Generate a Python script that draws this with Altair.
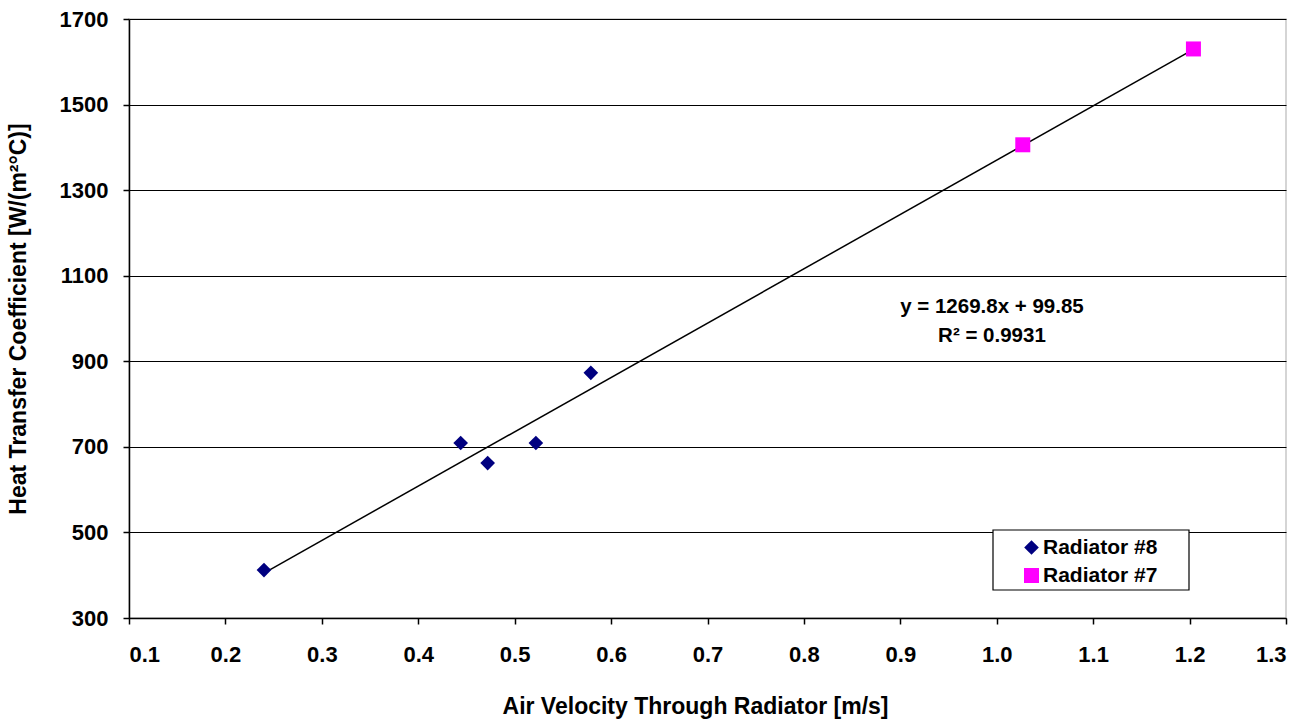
import altair as alt
import pandas as pd

# Data
x_rad8 = [0.240, 0.444, 0.472, 0.522, 0.579]
y_rad8 = [412, 709, 662, 709, 873]
x_rad7 = [1.027, 1.204]
y_rad7 = [1406, 1630]
series_names = ["Radiator #8", "Radiator #7"]
series_colors = ["#000080", "#FF00FF"]
series_shapes = ["diamond", "square"]
x_ticks = [0.1, 0.2, 0.3, 0.4, 0.5, 0.6, 0.7, 0.8, 0.9, 1.0, 1.1, 1.2, 1.3]
y_ticks = [300, 500, 700, 900, 1100, 1300, 1500, 1700]
eq_lines = ["y = 1269.8x + 99.85", "R² = 0.9931"]
eq_x = [0.995, 0.995]
eq_y = [1027, 959]

FONT = "Liberation Sans"

df = pd.DataFrame({
    "x": x_rad8 + x_rad7,
    "y": y_rad8 + y_rad7,
    "series": [series_names[0]] * len(x_rad8) + [series_names[1]] * len(x_rad7),
})
eq_df = pd.DataFrame({"x": eq_x, "y": eq_y, "t": eq_lines})

xs = alt.Scale(domain=[0.1, 1.3], nice=False, zero=False)
ys = alt.Scale(domain=[300, 1700], nice=False, zero=False)

x_axis = alt.Axis(
    values=x_ticks, format=".1f", title="Air Velocity Through Radiator [m/s]",
    grid=False, tickSize=6, labelPadding=20, titleY=88, titleX=566,
    titleAlign="center", titleBaseline="middle",
)
y_axis = alt.Axis(
    values=y_ticks, format="d", title="Heat Transfer Coefficient [W/(m²°C)]",
    grid=True, tickSize=6, labelPadding=15, titleX=-111, titleBaseline="middle",
)

base = alt.Chart(df)

points = base.mark_point(filled=True, opacity=1, strokeWidth=0).encode(
    x=alt.X("x:Q", scale=xs, axis=x_axis),
    y=alt.Y("y:Q", scale=ys, axis=y_axis),
    color=alt.Color("series:N", scale=alt.Scale(domain=series_names, range=series_colors),
                    legend=alt.Legend(title=None, orient="none", legendX=892, legendY=518,
                                      labelFontSize=21, labelFont=FONT, labelFontWeight="bold",
                                      symbolSize=140, rowPadding=6, labelOffset=1,
                                      symbolStrokeWidth=0)),
    shape=alt.Shape("series:N", scale=alt.Scale(domain=series_names, range=series_shapes)),
    size=alt.Size("series:N", scale=alt.Scale(domain=series_names, range=[215, 225]), legend=None),
)

trend = base.transform_regression("x", "y", extent=[0.24, 1.204]).mark_line(
    color="black", strokeWidth=1.5
).encode(x=alt.X("x:Q", scale=xs), y=alt.Y("y:Q", scale=ys))

legend_box = alt.Chart(pd.DataFrame({"a": [0]})).mark_rect(
    fill="white", stroke="black", strokeWidth=1.2
).encode(
    x=alt.value(864), x2=alt.value(1060), y=alt.value(511), y2=alt.value(571)
)

eq_text = alt.Chart(eq_df).mark_text(
    font=FONT, fontSize=20.5, fontWeight="bold", color="black", align="center", baseline="middle"
).encode(x=alt.X("x:Q", scale=xs), y=alt.Y("y:Q", scale=ys), text="t:N")

chart = alt.layer(trend, legend_box, points, eq_text).properties(
    width=1157, height=599,
    padding={"left": 129, "top": 19, "right": 29, "bottom": 101},
    autosize=alt.AutoSizeParams(type="none"),
    background="white",
).configure_view(
    stroke="#c8c8c8", strokeWidth=1.5
).configure_axis(
    domainColor="black", domainWidth=1.5, tickColor="black", tickWidth=1.5,
    gridColor="black", gridWidth=1.2, gridOpacity=1,
    labelFont=FONT, labelFontSize=22, labelFontWeight="bold", labelColor="black",
    titleFont=FONT, titleFontSize=23, titleFontWeight="bold", titleColor="black",
)

chart.save("out.html", embed_options={"renderer": "svg", "actions": False})
